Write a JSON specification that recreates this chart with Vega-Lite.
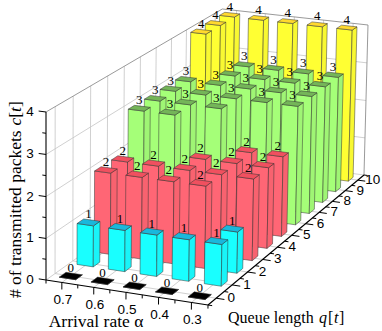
{
"$schema":"https://vega.github.io/schema/vega-lite/v6.json",
"width":382,"height":331,"padding":0,"autosize":{"type":"none"},
"background":"white","view":{"stroke":null},
"config":{"axis":{"disable":true}},
"datasets":{
"bars":[
{"alpha":0.7,"q":10,"c":4},{"alpha":0.6,"q":10,"c":4},{"alpha":0.5,"q":10,"c":4},{"alpha":0.4,"q":10,"c":4},{"alpha":0.3,"q":10,"c":4},
{"alpha":0.7,"q":9,"c":4},{"alpha":0.6,"q":9,"c":3},{"alpha":0.5,"q":9,"c":3},{"alpha":0.4,"q":9,"c":3},{"alpha":0.3,"q":9,"c":3},
{"alpha":0.7,"q":8,"c":4},{"alpha":0.6,"q":8,"c":3},{"alpha":0.5,"q":8,"c":3},{"alpha":0.4,"q":8,"c":3},{"alpha":0.3,"q":8,"c":3},
{"alpha":0.7,"q":7,"c":3},{"alpha":0.6,"q":7,"c":3},{"alpha":0.5,"q":7,"c":3},{"alpha":0.4,"q":7,"c":3},{"alpha":0.3,"q":7,"c":3},
{"alpha":0.7,"q":6,"c":3},{"alpha":0.6,"q":6,"c":3},{"alpha":0.5,"q":6,"c":3},{"alpha":0.4,"q":6,"c":3},{"alpha":0.3,"q":6,"c":3},
{"alpha":0.7,"q":5,"c":3},{"alpha":0.6,"q":5,"c":3},{"alpha":0.5,"q":5,"c":3},{"alpha":0.4,"q":5,"c":2},{"alpha":0.3,"q":5,"c":2},
{"alpha":0.7,"q":4,"c":3},{"alpha":0.6,"q":4,"c":3},{"alpha":0.5,"q":4,"c":2},{"alpha":0.4,"q":4,"c":2},{"alpha":0.3,"q":4,"c":2},
{"alpha":0.7,"q":3,"c":2},{"alpha":0.6,"q":3,"c":2},{"alpha":0.5,"q":3,"c":2},{"alpha":0.4,"q":3,"c":2},{"alpha":0.3,"q":3,"c":2},
{"alpha":0.7,"q":2,"c":2},{"alpha":0.6,"q":2,"c":2},{"alpha":0.5,"q":2,"c":2},{"alpha":0.4,"q":2,"c":2},{"alpha":0.3,"q":2,"c":1},
{"alpha":0.7,"q":1,"c":1},{"alpha":0.6,"q":1,"c":1},{"alpha":0.5,"q":1,"c":1},{"alpha":0.4,"q":1,"c":1},{"alpha":0.3,"q":1,"c":1},
{"alpha":0.7,"q":0,"c":0},{"alpha":0.6,"q":0,"c":0},{"alpha":0.5,"q":0,"c":0},{"alpha":0.4,"q":0,"c":0},{"alpha":0.3,"q":0,"c":0}
],
"grid":[
{"axis":"q","value":0},{"axis":"q","value":1},{"axis":"q","value":2},{"axis":"q","value":3},{"axis":"q","value":4},{"axis":"q","value":5},{"axis":"q","value":6},{"axis":"q","value":7},{"axis":"q","value":8},{"axis":"q","value":9},{"axis":"q","value":10},
{"axis":"alpha","value":0.7},{"axis":"alpha","value":0.6},{"axis":"alpha","value":0.5},{"axis":"alpha","value":0.4},{"axis":"alpha","value":0.3},
{"axis":"c","value":0},{"axis":"c","value":1},{"axis":"c","value":2},{"axis":"c","value":3}
],
"edges":[
{"id":"frame","k":0,"alpha":0.75,"q":-0.5,"c":4},{"id":"frame","k":1,"alpha":0.75,"q":10.5,"c":4},{"id":"frame","k":2,"alpha":0.25,"q":10.5,"c":4},{"id":"frame","k":3,"alpha":0.25,"q":10.5,"c":0},
{"id":"axisC","k":0,"alpha":0.75,"q":-0.5,"c":0},{"id":"axisC","k":1,"alpha":0.75,"q":-0.5,"c":4},
{"id":"axisA","k":0,"alpha":0.75,"q":-0.5,"c":0},{"id":"axisA","k":1,"alpha":0.25,"q":-0.5,"c":0},
{"id":"axisQ","k":0,"alpha":0.25,"q":-0.5,"c":0},{"id":"axisQ","k":1,"alpha":0.25,"q":10.5,"c":0}
],
"ticks":[
{"axis":"c","value":0,"major":1},{"axis":"c","value":0.5,"major":0},{"axis":"c","value":1,"major":1},{"axis":"c","value":1.5,"major":0},{"axis":"c","value":2,"major":1},{"axis":"c","value":2.5,"major":0},{"axis":"c","value":3,"major":1},{"axis":"c","value":3.5,"major":0},{"axis":"c","value":4,"major":1},
{"axis":"alpha","value":0.75,"major":0},{"axis":"alpha","value":0.7,"major":1},{"axis":"alpha","value":0.65,"major":0},{"axis":"alpha","value":0.6,"major":1},{"axis":"alpha","value":0.55,"major":0},{"axis":"alpha","value":0.5,"major":1},{"axis":"alpha","value":0.45,"major":0},{"axis":"alpha","value":0.4,"major":1},{"axis":"alpha","value":0.35,"major":0},{"axis":"alpha","value":0.3,"major":1},{"axis":"alpha","value":0.25,"major":0},
{"axis":"q","value":-0.5,"major":0},{"axis":"q","value":0,"major":1},{"axis":"q","value":0.5,"major":0},{"axis":"q","value":1,"major":1},{"axis":"q","value":1.5,"major":0},{"axis":"q","value":2,"major":1},{"axis":"q","value":2.5,"major":0},{"axis":"q","value":3,"major":1},{"axis":"q","value":3.5,"major":0},{"axis":"q","value":4,"major":1},{"axis":"q","value":4.5,"major":0},{"axis":"q","value":5,"major":1},{"axis":"q","value":5.5,"major":0},{"axis":"q","value":6,"major":1},{"axis":"q","value":6.5,"major":0},{"axis":"q","value":7,"major":1},{"axis":"q","value":7.5,"major":0},{"axis":"q","value":8,"major":1},{"axis":"q","value":8.5,"major":0},{"axis":"q","value":9,"major":1},{"axis":"q","value":9.5,"major":0},{"axis":"q","value":10,"major":1},{"axis":"q","value":10.5,"major":0}
],
"titles":[
{"t":"# of transmitted packets","alpha":0.75,"q":-0.5,"c":0},
{"t":"c","alpha":0.75,"q":-0.5,"c":0},{"t":"[","alpha":0.75,"q":-0.5,"c":0},{"t":"t","alpha":0.75,"q":-0.5,"c":0},{"t":"]","alpha":0.75,"q":-0.5,"c":0},
{"t":"Arrival rate α","alpha":0.5,"q":-0.5,"c":0},
{"t":"Queue length","alpha":0.25,"q":-0.5,"c":0},
{"t":"q","alpha":0.25,"q":-0.5,"c":0},{"t":"[ ","alpha":0.25,"q":-0.5,"c":0},{"t":"t ","alpha":0.25,"q":-0.5,"c":0},{"t":"] ","alpha":0.25,"q":-0.5,"c":0}
]
},
"encoding":{
"x":{"field":"px","type":"quantitative","scale":{"domain":[0,382],"range":[0,382],"nice":false,"zero":false},"axis":null},
"y":{"field":"py","type":"quantitative","scale":{"domain":[0,331],"range":[0,331],"nice":false,"zero":false},"axis":null}
},
"layer":[
{"data":{"name":"grid"},
"transform":[
{"calculate":"datum.axis=='q'?[{k:0,a:0.75,b:datum.value,d:4},{k:1,a:0.75,b:datum.value,d:0},{k:2,a:0.25,b:datum.value,d:0}]:datum.axis=='alpha'?[{k:0,a:datum.value,b:-0.5,d:0},{k:1,a:datum.value,b:10.5,d:0},{k:2,a:datum.value,b:10.5,d:4}]:[{k:0,a:0.75,b:-0.5,d:datum.value},{k:1,a:0.75,b:10.5,d:datum.value},{k:2,a:0.25,b:10.5,d:datum.value}]","as":"pts"},
{"flatten":["pts"]},
{"calculate":"datum.axis+datum.value","as":"id"},
{"calculate":"datum.pts.k","as":"k"},
{"calculate":"(0.75-datum.pts.a)/0.5","as":"U"},{"calculate":"(datum.pts.b+0.5)/11","as":"V"},{"calculate":"datum.pts.d/4","as":"W"},
{"calculate":"1-0.0242*datum.U+0.1523*datum.V-0.01401*datum.W","as":"den"},
{"calculate":"(46+156.97*datum.U+207.65*datum.V-0.644*datum.W)/datum.den","as":"px"},
{"calculate":"(280+17.62*datum.U-100.2*datum.V-169.57*datum.W)/datum.den","as":"py"}
],
"mark":{"type":"line","stroke":"#c4c4c4","strokeWidth":0.8},
"encoding":{"detail":{"field":"id"},"order":{"field":"k"}}
},
{"data":{"name":"edges"},
"transform":[
{"calculate":"(0.75-datum.alpha)/0.5","as":"U"},{"calculate":"(datum.q+0.5)/11","as":"V"},{"calculate":"datum.c/4","as":"W"},
{"calculate":"1-0.0242*datum.U+0.1523*datum.V-0.01401*datum.W","as":"den"},
{"calculate":"(46+156.97*datum.U+207.65*datum.V-0.644*datum.W)/datum.den","as":"px"},
{"calculate":"(280+17.62*datum.U-100.2*datum.V-169.57*datum.W)/datum.den","as":"py"},
{"filter":"datum.id=='frame'"}
],
"mark":{"type":"line","stroke":"#808080","strokeWidth":0.8},
"encoding":{"detail":{"field":"id"},"order":{"field":"k"}}
},
{"data":{"name":"bars"},
"transform":[
{"calculate":"[{f:'front',i:0,su:-1,sv:-1,t:0},{f:'front',i:1,su:1,sv:-1,t:0},{f:'front',i:2,su:1,sv:-1,t:1},{f:'front',i:3,su:-1,sv:-1,t:1},{f:'front',i:4,su:-1,sv:-1,t:0},{f:'side',i:0,su:1,sv:-1,t:0},{f:'side',i:1,su:1,sv:1,t:0},{f:'side',i:2,su:1,sv:1,t:1},{f:'side',i:3,su:1,sv:-1,t:1},{f:'side',i:4,su:1,sv:-1,t:0},{f:'top',i:0,su:-1,sv:-1,t:1},{f:'top',i:1,su:1,sv:-1,t:1},{f:'top',i:2,su:1,sv:1,t:1},{f:'top',i:3,su:-1,sv:1,t:1},{f:'top',i:4,su:-1,sv:-1,t:1}]","as":"vert"},
{"flatten":["vert"]},
{"calculate":"datum.q+'_'+datum.alpha+'_'+datum.vert.f","as":"poly"},
{"calculate":"datum.vert.i","as":"i"},
{"calculate":"'c'+datum.c+datum.vert.f","as":"shade"},
{"calculate":"(0.75-datum.alpha)/0.5+datum.vert.su*0.052","as":"U"},{"calculate":"(datum.q+0.5)/11+datum.vert.sv*0.0172","as":"V"},{"calculate":"datum.vert.t*datum.c/4","as":"W"},
{"calculate":"1-0.0242*datum.U+0.1523*datum.V-0.01401*datum.W","as":"den"},
{"calculate":"(46+156.97*datum.U+207.65*datum.V-0.644*datum.W)/datum.den","as":"px"},
{"calculate":"(280+17.62*datum.U-100.2*datum.V-169.57*datum.W)/datum.den","as":"py"}
],
"mark":{"type":"line","stroke":"#333333","strokeWidth":0.5,"strokeJoin":"round"},
"encoding":{
"detail":{"field":"poly"},"order":{"field":"i"},
"fill":{"field":"shade","type":"nominal","legend":null,"scale":{
"domain":["c0front","c0side","c0top","c1front","c1side","c1top","c2front","c2side","c2top","c3front","c3side","c3top","c4front","c4side","c4top"],
"range":["#000000","#000000","#000000","#19ffff","#19f4f8","#19b8dc","#ff6675","#f8626f","#f0505f","#a5ff78","#9ff574","#74b558","#ffff33","#f8f832","#ffd92e"]}}
}
},
{"data":{"name":"edges"},
"transform":[
{"calculate":"(0.75-datum.alpha)/0.5","as":"U"},{"calculate":"(datum.q+0.5)/11","as":"V"},{"calculate":"datum.c/4","as":"W"},
{"calculate":"1-0.0242*datum.U+0.1523*datum.V-0.01401*datum.W","as":"den"},
{"calculate":"(46+156.97*datum.U+207.65*datum.V-0.644*datum.W)/datum.den","as":"px"},
{"calculate":"(280+17.62*datum.U-100.2*datum.V-169.57*datum.W)/datum.den","as":"py"},
{"filter":"datum.id!='frame'"}
],
"mark":{"type":"line","stroke":"#000000","strokeWidth":1.1},
"encoding":{"detail":{"field":"id"},"order":{"field":"k"}}
},
{"data":{"name":"ticks"},
"transform":[
{"calculate":"datum.major?1:0.5","as":"len"},
{"calculate":"datum.axis=='q'?[{k:0,a:0.25,b:datum.value,d:0},{k:1,a:0.25-0.025*datum.len,b:datum.value,d:0}]:datum.axis=='alpha'?[{k:0,a:datum.value,b:-0.5,d:0},{k:1,a:datum.value,b:-0.5,d:-0.17*datum.len}]:[{k:0,a:0.75,b:-0.5,d:datum.value},{k:1,a:0.75+0.023*datum.len,b:-0.5,d:datum.value}]","as":"pts"},
{"flatten":["pts"]},
{"calculate":"datum.axis+datum.value","as":"id"},
{"calculate":"datum.pts.k","as":"k"},
{"calculate":"(0.75-datum.pts.a)/0.5","as":"U"},{"calculate":"(datum.pts.b+0.5)/11","as":"V"},{"calculate":"datum.pts.d/4","as":"W"},
{"calculate":"1-0.0242*datum.U+0.1523*datum.V-0.01401*datum.W","as":"den"},
{"calculate":"(46+156.97*datum.U+207.65*datum.V-0.644*datum.W)/datum.den","as":"px"},
{"calculate":"(280+17.62*datum.U-100.2*datum.V-169.57*datum.W)/datum.den","as":"py"}
],
"mark":{"type":"line","stroke":"#000000","strokeWidth":1},
"encoding":{"detail":{"field":"id"},"order":{"field":"k"}}
},
{"data":{"name":"bars"},
"transform":[
{"calculate":"(0.75-datum.alpha)/0.5","as":"U"},{"calculate":"(datum.q+0.5)/11","as":"V"},{"calculate":"datum.c/4","as":"W"},
{"calculate":"1-0.0242*datum.U+0.1523*datum.V-0.01401*datum.W","as":"den"},
{"calculate":"(46+156.97*datum.U+207.65*datum.V-0.644*datum.W)/datum.den","as":"px"},
{"calculate":"(280+17.62*datum.U-100.2*datum.V-169.57*datum.W)/datum.den","as":"py"}
],
"mark":{"type":"text","font":"Liberation Serif","fontSize":13,"dy":-8,"baseline":"middle","align":"center","color":"#000000"},
"encoding":{"text":{"field":"c","type":"nominal"}}
},
{"data":{"name":"ticks"},
"transform":[
{"filter":"datum.major==1"},
{"calculate":"''+datum.value","as":"label"},
{"calculate":"datum.axis=='q'?0.25:datum.axis=='alpha'?datum.value:0.75","as":"a"},
{"calculate":"datum.axis=='q'?datum.value:-0.5","as":"b"},
{"calculate":"datum.axis=='c'?datum.value:0","as":"d"},
{"calculate":"(0.75-datum.a)/0.5","as":"U"},{"calculate":"(datum.b+0.5)/11","as":"V"},{"calculate":"datum.d/4","as":"W"},
{"calculate":"1-0.0242*datum.U+0.1523*datum.V-0.01401*datum.W","as":"den"},
{"calculate":"(46+156.97*datum.U+207.65*datum.V-0.644*datum.W)/datum.den","as":"px"},
{"calculate":"(280+17.62*datum.U-100.2*datum.V-169.57*datum.W)/datum.den","as":"py"}
],
"encoding":{"text":{"field":"label","type":"nominal"}},
"layer":[
{"transform":[{"filter":"datum.axis=='c'"}],"mark":{"type":"text","font":"Liberation Sans","fontSize":13.5,"dx":-16,"baseline":"middle","align":"center","color":"#000000"}},
{"transform":[{"filter":"datum.axis=='alpha'"}],"mark":{"type":"text","font":"Liberation Sans","fontSize":13.5,"dx":1,"dy":18,"baseline":"middle","align":"center","color":"#000000"}},
{"transform":[{"filter":"datum.axis=='q'"}],"mark":{"type":"text","font":"Liberation Sans","fontSize":13.5,"dx":15,"baseline":"middle","align":"center","color":"#000000"}}
]
},
{"data":{"name":"titles"},
"transform":[
{"calculate":"(0.75-datum.alpha)/0.5","as":"U"},{"calculate":"(datum.q+0.5)/11","as":"V"},{"calculate":"datum.c/4","as":"W"},
{"calculate":"1-0.0242*datum.U+0.1523*datum.V-0.01401*datum.W","as":"den"},
{"calculate":"(46+156.97*datum.U+207.65*datum.V-0.644*datum.W)/datum.den","as":"px"},
{"calculate":"(280+17.62*datum.U-100.2*datum.V-169.57*datum.W)/datum.den","as":"py"}
],
"encoding":{"text":{"field":"t","type":"nominal"}},
"layer":[
{"transform":[{"filter":"datum.t=='# of transmitted packets'"}],"mark":{"type":"text","font":"Liberation Serif","fontSize":17.5,"angle":270,"align":"left","baseline":"alphabetic","dx":-18,"dy":-25,"color":"#000000"}},
{"transform":[{"filter":"datum.t=='c'"}],"mark":{"type":"text","font":"Liberation Serif","fontStyle":"italic","fontSize":17.5,"angle":270,"align":"left","baseline":"alphabetic","dx":154.5,"dy":-25,"color":"#000000"}},
{"transform":[{"filter":"datum.t=='['"}],"mark":{"type":"text","font":"Liberation Serif","fontSize":17.5,"angle":270,"align":"left","baseline":"alphabetic","dx":162.3,"dy":-25,"color":"#000000"}},
{"transform":[{"filter":"datum.t=='t'"}],"mark":{"type":"text","font":"Liberation Serif","fontStyle":"italic","fontSize":17.5,"angle":270,"align":"left","baseline":"alphabetic","dx":168,"dy":-25,"color":"#000000"}},
{"transform":[{"filter":"datum.t==']'"}],"mark":{"type":"text","font":"Liberation Serif","fontSize":17.5,"angle":270,"align":"left","baseline":"alphabetic","dx":173,"dy":-25,"color":"#000000"}},
{"transform":[{"filter":"datum.t=='Arrival rate α'"}],"mark":{"type":"text","font":"Liberation Serif","fontSize":17.5,"align":"center","baseline":"alphabetic","dx":-30,"dy":35,"color":"#000000"}},
{"transform":[{"filter":"datum.t=='Queue length'"}],"mark":{"type":"text","font":"Liberation Serif","fontSize":16,"align":"left","baseline":"alphabetic","dx":20,"dy":18,"color":"#000000"}},
{"transform":[{"filter":"datum.t=='q'"}],"mark":{"type":"text","font":"Liberation Serif","fontStyle":"italic","fontSize":16,"align":"left","baseline":"alphabetic","dx":111,"dy":18,"color":"#000000"}},
{"transform":[{"filter":"datum.t=='[ '"}],"mark":{"type":"text","font":"Liberation Serif","fontSize":16,"align":"left","baseline":"alphabetic","dx":120,"dy":18,"color":"#000000"}},
{"transform":[{"filter":"datum.t=='t '"}],"mark":{"type":"text","font":"Liberation Serif","fontStyle":"italic","fontSize":16,"align":"left","baseline":"alphabetic","dx":126,"dy":18,"color":"#000000"}},
{"transform":[{"filter":"datum.t=='] '"}],"mark":{"type":"text","font":"Liberation Serif","fontSize":16,"align":"left","baseline":"alphabetic","dx":131,"dy":18,"color":"#000000"}}
]
}
]
}
